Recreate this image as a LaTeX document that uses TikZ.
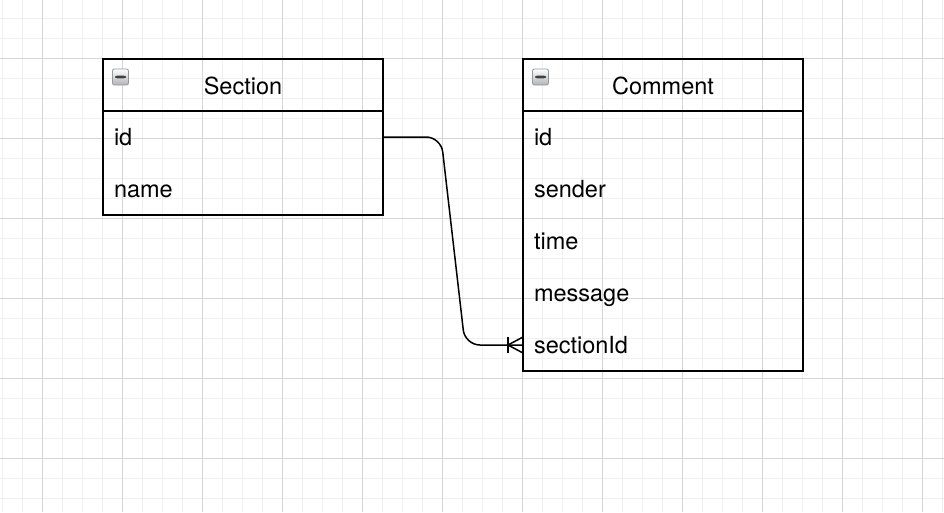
\documentclass[tikz,border=0pt]{standalone}
\usepackage{fontspec}
\setmainfont{TeX Gyre Heros}
\usetikzlibrary{positioning}

\definecolor{gridminor}{HTML}{F0F0F0}
\definecolor{gridmajor}{HTML}{D6D6D6}
\definecolor{iconborder}{HTML}{8E9AAA}

\tikzset{
  tablehead/.style={draw, line width=1.5pt, minimum width=280pt, minimum height=52pt,
    inner sep=0pt, outer sep=0pt, text height=18pt, text depth=0pt,
    font=\fontsize{23.5}{28}\selectfont},
  tablerow/.style={minimum width=280pt, minimum height=52pt, inner xsep=11pt, inner ysep=0pt,
    outer sep=0pt, text width=258pt, align=left, text height=17pt, text depth=0pt,
    font=\fontsize{23.5}{28}\selectfont},
  collapseicon/.style={draw=iconborder, line width=0.8pt, rounded corners=2pt,
    minimum size=16pt, inner sep=0pt, top color=white, bottom color=black!30,
    path picture={\fill[black!75] ([xshift=-5.5pt,yshift=-1.3pt]path picture bounding box.center)
      rectangle ([xshift=5.5pt,yshift=1.3pt]path picture bounding box.center);}},
  relation/.style={line width=1.5pt, rounded corners=15pt},
}

\begin{document}
\begin{tikzpicture}[x=1pt, y=-1pt]
            \useasboundingbox (0,0) rectangle (944,512);
            \fill[white] (0,0) rectangle (944,512);

            % Raster
            \foreach \gx in {2,22,...,942} \draw[gridminor, line width=1pt] (\gx,0) -- (\gx,512);
            \foreach \gy in {18,38,...,498} \draw[gridminor, line width=1pt] (0,\gy) -- (944,\gy);
            \foreach \gx in {42,122,...,922} \draw[gridmajor, line width=1pt] (\gx,0) -- (\gx,512);
            \foreach \gy in {58,138,...,458} \draw[gridmajor, line width=1pt] (0,\gy) -- (944,\gy);

            % Tabel Section
            \node (secHead) at (243,85) [tablehead] {Section};
            \node (secId) [tablerow, below=0pt of secHead] {id};
            \node (secName) [tablerow, below=0pt of secId] {name};
            \draw[line width=1.5pt] (secHead.north west) rectangle (secName.south east);
            \node (secIcon) at (120.5,77) [collapseicon] {};

            % Tabel Comment
            \node (comHead) at (663,85) [tablehead] {Comment};
            \node (comId) [tablerow, below=0pt of comHead] {id};
            \node (comSender) [tablerow, below=0pt of comId] {sender};
            \node (comTime) [tablerow, below=0pt of comSender] {time};
            \node (comMessage) [tablerow, below=0pt of comTime] {message};
            \node (comSectionId) [tablerow, below=0pt of comMessage] {sectionId};
            \draw[line width=1.5pt] (comHead.north west) rectangle (comSectionId.south east);
            \node (comIcon) at (540.5,77) [collapseicon] {};

            % Relatie
            \coordinate (bendA) at (441,137);
            \coordinate (bendB) at (465,345);
            \draw[relation] (secId.east) -- (bendA) -- (bendB) -- (comSectionId.west);
            \draw[line width=1.5pt] (comSectionId.west) ++(-15,-8) -- ++(0,16);
            \draw[line width=1.5pt] (comSectionId.west) ++(0,-8) -- ++(-15,8) -- ++(15,8);
        \end{tikzpicture}
\end{document}
